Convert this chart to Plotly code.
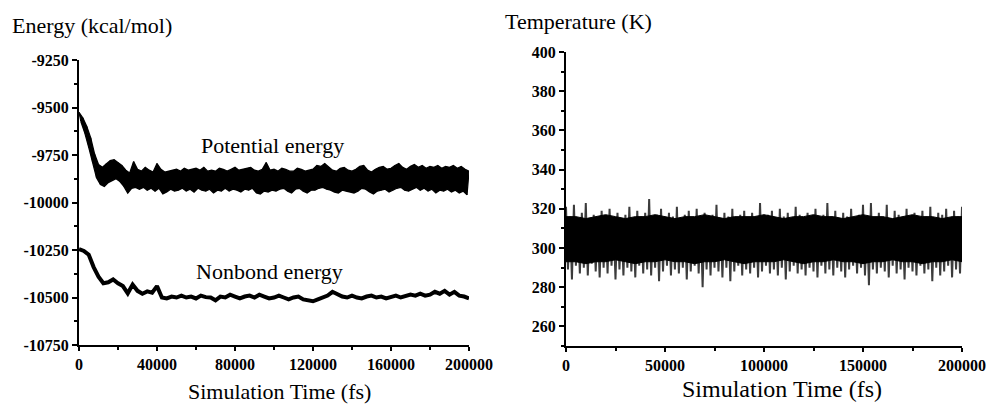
import plotly.graph_objects as go

# ---------------- data ----------------
# Potential energy: sampled every 1000 fs, alternating between band top (even) and band bottom (odd)
pe_time = [i * 1000 for i in range(201)]
pe_energy = [
    -9525, -9575, -9555, -9635, -9600, -9710, -9660, -9790, -9745, -9870,
    -9800, -9905, -9815, -9915, -9795, -9895, -9780, -9885, -9775, -9875,
    -9790, -9890, -9805, -9915, -9830, -9950, -9845, -9925, -9785, -9920,
    -9825, -9930, -9835, -9920, -9815, -9935, -9830, -9925, -9840, -9940,
    -9795, -9925, -9825, -9955, -9840, -9945, -9835, -9930, -9830, -9940,
    -9825, -9935, -9835, -9925, -9820, -9940, -9830, -9930, -9825, -9945,
    -9820, -9925, -9830, -9935, -9815, -9940, -9835, -9930, -9830, -9950,
    -9835, -9935, -9820, -9940, -9825, -9925, -9835, -9940, -9825, -9930,
    -9815, -9935, -9830, -9945, -9825, -9930, -9820, -9935, -9815, -9925,
    -9830, -9950, -9835, -9955, -9825, -9940, -9790, -9945, -9830, -9935,
    -9825, -9940, -9835, -9930, -9820, -9925, -9825, -9940, -9835, -9950,
    -9835, -9930, -9820, -9925, -9825, -9940, -9835, -9950, -9830, -9935,
    -9825, -9935, -9805, -9925, -9810, -9920, -9795, -9930, -9815, -9935,
    -9830, -9945, -9835, -9950, -9820, -9935, -9815, -9940, -9830, -9945,
    -9835, -9950, -9825, -9940, -9810, -9925, -9805, -9930, -9830, -9945,
    -9840, -9955, -9825, -9940, -9815, -9935, -9810, -9930, -9825, -9945,
    -9820, -9935, -9805, -9925, -9795, -9920, -9815, -9935, -9825, -9940,
    -9810, -9930, -9800, -9920, -9815, -9935, -9805, -9925, -9820, -9940,
    -9810, -9930, -9815, -9950, -9805, -9935, -9820, -9940, -9810, -9930,
    -9815, -9945, -9805, -9935, -9820, -9950, -9810, -9940, -9825, -9960,
    -9835]

nb_time = [i * 2500 for i in range(81)]
nb_energy = [-10245, -10255, -10275, -10340, -10390, -10425, -10420, -10405, -10425, -10440,
             -10478, -10432, -10465, -10480, -10468, -10475, -10440, -10500, -10505, -10495,
             -10500, -10490, -10500, -10495, -10505, -10490, -10498, -10500, -10515, -10495,
             -10500, -10485, -10495, -10505, -10495, -10490, -10500, -10485, -10495, -10505,
             -10500, -10490, -10500, -10510, -10500, -10495, -10510, -10515, -10520, -10510,
             -10500, -10490, -10470, -10485, -10495, -10500, -10490, -10500, -10505, -10495,
             -10490, -10500, -10495, -10505, -10495, -10490, -10500, -10495, -10485, -10490,
             -10480, -10490, -10485, -10470, -10480, -10465, -10485, -10470, -10490, -10495,
             -10505]

temp_peak_time = [i * 2000 for i in range(101)]
temp_peak = [321, 316, 322, 314, 318, 323, 315, 317, 313, 319,
             316, 320, 314, 318, 315, 317, 321, 314, 319, 316,
             318, 325, 315, 317, 320, 314, 318, 316, 321, 315,
             317, 319, 314, 320, 316, 318, 315, 317, 322, 315,
             318, 316, 320, 314, 317, 319, 315, 318, 316, 323,
             315, 317, 319, 314, 320, 316, 318, 315, 321, 317,
             314, 318, 316, 320, 315, 317, 323, 316, 319, 315,
             318, 316, 320, 315, 317, 322, 316, 323, 315, 318,
             316, 322, 315, 319, 317, 314, 320, 316, 318, 315,
             319, 316, 321, 315, 318, 317, 320, 315, 319, 316,
             321]
temp_trough_time = [1000 + i * 2000 for i in range(100)]
temp_trough = [289, 284, 291, 287, 290, 286, 292, 288, 285, 290,
               287, 291, 284, 289, 286, 290, 288, 285, 291, 287,
               289, 286, 290, 283, 288, 291, 286, 289, 287, 290,
               284, 288, 291, 287, 280, 289, 286, 290, 288, 285,
               290, 283, 288, 291, 286, 289, 287, 290, 285, 288,
               291, 287, 289, 286, 290, 284, 288, 291, 287, 289,
               286, 290, 288, 285, 291, 287, 289, 286, 290, 288,
               285, 289, 291, 287, 290, 286, 281, 289, 287, 290,
               288, 285, 291, 287, 289, 284, 290, 288, 286, 291,
               287, 289, 283, 290, 286, 288, 291, 285, 289, 287]

core_time = [i * 5000 for i in range(41)]
core_upper = [316, 316, 315, 316, 317, 316, 315, 316, 316, 317, 316, 315, 316, 316,
              317, 316, 315, 316, 316, 316, 317, 316, 315, 316, 316, 317, 316, 316,
              315, 316, 317, 316, 316, 315, 316, 317, 316, 316, 315, 316, 316]
core_lower = [293, 293, 292, 293, 293, 294, 293, 292, 293, 293, 294, 293, 293, 292,
              293, 293, 294, 293, 292, 293, 293, 293, 294, 293, 292, 293, 293, 294,
              293, 293, 292, 293, 293, 294, 293, 293, 292, 293, 293, 294, 293]

energy_ticks = [-10750, -10500, -10250, -10000, -9750, -9500, -9250]
energy_labels = ["-10750", "-10500", "-10250", "-10000", "-9750", "-9500", "-9250"]
temp_ticks = [260, 280, 300, 320, 340, 360, 380, 400]
time_ticks_left = [0, 40000, 80000, 120000, 160000, 200000]
time_ticks_right = [0, 50000, 100000, 150000, 200000]

# band edges of potential energy (top = even samples, bottom = odd samples)
pe_top_x, pe_top_y = pe_time[0::2], pe_energy[0::2]
pe_bot_x, pe_bot_y = pe_time[1::2], pe_energy[1::2]

# zigzag for temperature spikes (interleave peaks and troughs)
temp_zz_x, temp_zz_y = [], []
for i in range(len(temp_peak)):
    temp_zz_x.append(temp_peak_time[i]); temp_zz_y.append(temp_peak[i])
    if i < len(temp_trough):
        temp_zz_x.append(temp_trough_time[i]); temp_zz_y.append(temp_trough[i])

SERIF = "Liberation Serif"
W, H = 990, 404

fig = go.Figure()

# Potential energy band
fig.add_trace(go.Scatter(x=pe_bot_x, y=pe_bot_y, mode="lines",
                         line=dict(color="black", width=1.3), xaxis="x", yaxis="y",
                         showlegend=False, hoverinfo="skip"))
fig.add_trace(go.Scatter(x=pe_top_x, y=pe_top_y, mode="lines", fill="tonexty",
                         fillcolor="black", line=dict(color="black", width=1.3),
                         xaxis="x", yaxis="y", showlegend=False, hoverinfo="skip"))
fig.add_trace(go.Scatter(x=pe_time, y=pe_energy, mode="lines",
                         line=dict(color="black", width=1.2), xaxis="x", yaxis="y",
                         showlegend=False))
# Nonbond energy
fig.add_trace(go.Scatter(x=nb_time, y=nb_energy, mode="lines",
                         line=dict(color="black", width=4), xaxis="x", yaxis="y",
                         showlegend=False))

# Temperature spikes
fig.add_trace(go.Scatter(x=temp_zz_x, y=temp_zz_y, mode="lines",
                         line=dict(color="#3c3c3c", width=2), xaxis="x2", yaxis="y2",
                         showlegend=False, hoverinfo="skip"))
# Temperature core
fig.add_trace(go.Scatter(x=core_time, y=core_lower, mode="lines",
                         line=dict(color="black", width=1), xaxis="x2", yaxis="y2",
                         showlegend=False, hoverinfo="skip"))
fig.add_trace(go.Scatter(x=core_time, y=core_upper, mode="lines", fill="tonexty",
                         fillcolor="black", line=dict(color="black", width=1),
                         xaxis="x2", yaxis="y2", showlegend=False, hoverinfo="skip"))

tickfont = dict(family=SERIF, size=16, color="black", weight="bold")
axis_common = dict(showgrid=False, zeroline=False, showline=True, linecolor="black",
                   linewidth=2, ticks="outside", tickcolor="black", tickwidth=1.5,
                   tickfont=tickfont, automargin=False)

fig.update_layout(
    width=W, height=H, margin=dict(l=0, r=0, t=0, b=0, autoexpand=False),
    paper_bgcolor="white", plot_bgcolor="white",
    xaxis=dict(domain=[79 / W, 469 / W], range=[0, 200000], anchor="y",
               tickvals=time_ticks_left, tickformat="d",
               ticklen=4, minor=dict(dtick=20000, ticks="outside", ticklen=3,
                                     tickcolor="black", tickwidth=1.5),
               **axis_common),
    yaxis=dict(domain=[1 - 345 / H, 1 - 60 / H], range=[-10750, -9250], anchor="x",
               tickvals=energy_ticks, ticktext=energy_labels, ticklen=5,
               minor=dict(dtick=125, ticks="outside", ticklen=3,
                          tickcolor="black", tickwidth=1.5),
               **axis_common),
    xaxis2=dict(domain=[566 / W, 962 / W], range=[0, 200000], anchor="y2",
                tickvals=time_ticks_right, tickformat="d",
                ticklen=4, minor=dict(dtick=25000, ticks="outside", ticklen=3,
                                      tickcolor="black", tickwidth=1.5),
                **axis_common),
    yaxis2=dict(domain=[1 - 346 / H, 1 - 52 / H], range=[250, 400], anchor="x2",
                tickvals=temp_ticks, tickformat="d", ticklen=5,
                minor=dict(dtick=10, ticks="outside", ticklen=3,
                           tickcolor="black", tickwidth=1.5),
                **axis_common),
)

annotations = [
    dict(text="Energy (kcal/mol)", x=10 / W, y=1 - 25 / H, xanchor="left", yanchor="middle", size=22),
    dict(text="Temperature (K)", x=503 / W, y=1 - 21 / H, xanchor="left", yanchor="middle", size=22),
    dict(text="Simulation Time (fs)", x=279 / W, y=1 - 391 / H, xanchor="center", yanchor="middle", size=22),
    dict(text="Simulation Time (fs)", x=782 / W, y=1 - 389 / H, xanchor="center", yanchor="middle", size=24),
    dict(text="Potential energy", x=272 / W, y=1 - 145 / H, xanchor="center", yanchor="middle", size=22),
    dict(text="Nonbond energy", x=269 / W, y=1 - 271 / H, xanchor="center", yanchor="middle", size=22),
]
anns = []
for a in annotations:
    size = a.pop("size")
    a.update(xref="paper", yref="paper", showarrow=False,
             font=dict(family=SERIF, size=size, color="black"))
    anns.append(a)
fig.update_layout(annotations=anns)

fig.write_html("out.html", config={"displayModeBar": False},
               post_script="document.body.style.margin='0';document.body.style.overflow='hidden';")
